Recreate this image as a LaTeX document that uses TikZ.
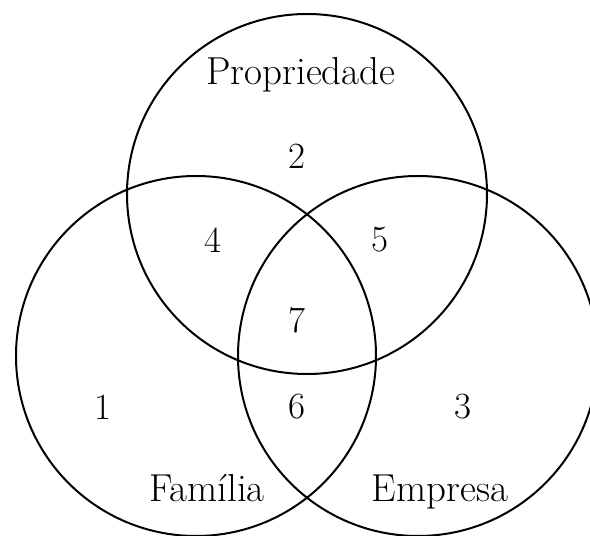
\documentclass[tikz,border=0pt]{standalone}
\usepackage{tikz}
\usetikzlibrary{positioning}

\tikzset{
    conjunto/.style={circle, draw, line width=2pt, minimum size=360pt, inner sep=0pt},
    titulo/.style={anchor=base, inner sep=0pt, font=\fontsize{39}{46}\selectfont},
    regiao/.style={inner sep=0pt, font=\fontsize{37}{44}\selectfont}
}

\begin{document}
\begin{tikzpicture}[x=1pt, y=1pt]
        \useasboundingbox (0,0) rectangle (590,536);
        % os tres circulos
        \node[conjunto] (propriedade) at (307,342) {};
        \node[conjunto] (familia) at (196,180) {};
        \node[conjunto] (empresa) at (418,180) {};
        % nomes
        \node[titulo] (tprop) at (301,451) {Propriedade};
        \node[titulo] (tfam) at (207,34) {Fam\'ilia};
        \node[titulo] (temp) at (440,34) {Empresa};
        % regioes
        \node[regiao] (r1) at (103,129) {1};
        \node[regiao] (r2) at (297,380) {2};
        \node[regiao] (r3) at (463,129) {3};
        \node[regiao] (r4) at (213,296) {4};
        \node[regiao] (r5) at (380,296) {5};
        \node[regiao] (r6) at (297,129) {6};
        \node[regiao] (r7) at (297,216) {7};
\end{tikzpicture}
\end{document}
